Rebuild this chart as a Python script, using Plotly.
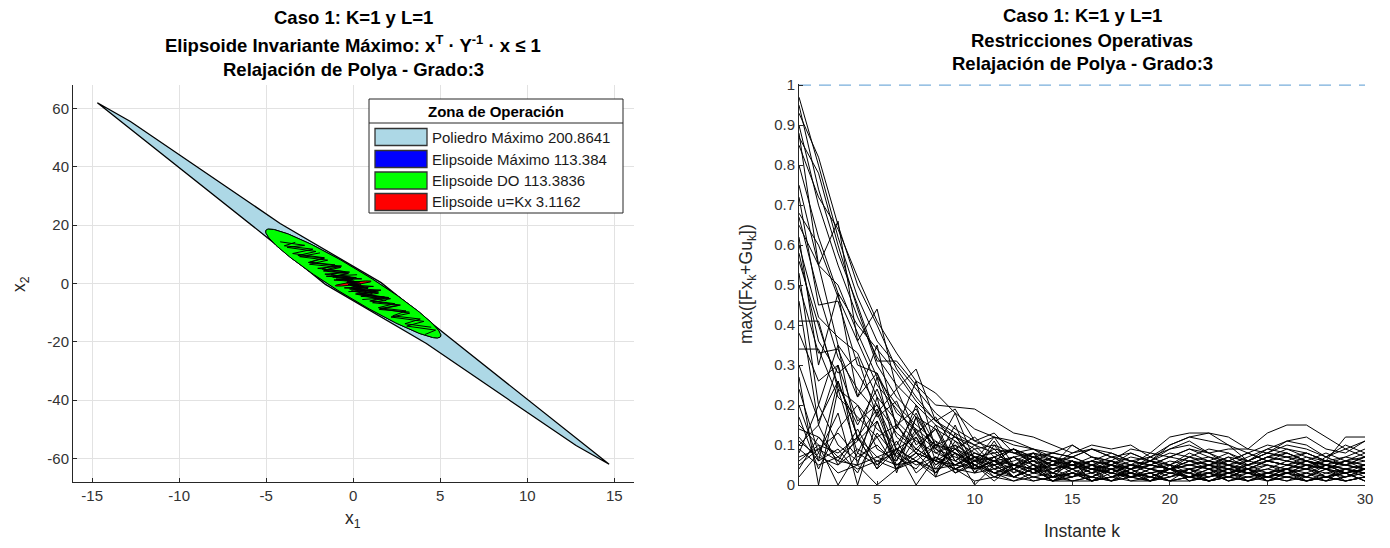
import numpy as np
import plotly.graph_objects as go

W, H = 1390, 548
FONT = "Liberation Sans, Arial, Helvetica, sans-serif"
TXT = "#262626"

# ---------------- Left panel data ----------------
POLY_X = [-14.7, -12.8, -4.2, 1.6, 5.2, 14.7, 12.8, 4.2, -1.6, -5.2, -14.7]
POLY_Y = [62.0, 55.6, 20.6, 0.3, -17.0, -62.0, -55.6, -20.6, -0.3, 17.0, 62.0]

# ellipse parameters: semi-axes (a, b) and orientation (deg) of the major axis
ELL_MAX = (19.3, 1.45, -75.5)
ELL_DO = (19.3, 1.45, -75.5)
ELL_UKX = (1.3, 0.4, 40.0)

LEGEND_TITLE = "Zona de Operación"
LEGEND_LABELS = ["Poliedro Máximo 200.8641", "Elipsoide Máximo 113.384",
                 "Elipsoide DO 113.3836", "Elipsoide u=Kx 3.1162"]
LEGEND_COLORS = ["#ADD8E6", "#0000FF", "#00FF00", "#FF0000"]

TRAJ_X = [
    [-3.33, -3.96, -2.32, -3.48, -1.67, -2.58, -0.72, -1.69, -0.29, -1.18, -0.01, -0.35, 0.08, 0.03],
    [4.12, 4.73, 3.07, 4.06, 2.17, 3.24, 1.52, 2.71, 0.95, 1.97, 0.28, 1.32, 0.02, 0.64, 0.0, 0.2, -0.03],
    [-1.91, -3.08, -1.47, -2.51, -0.72, -1.71, -0.28, -1.15, 0.03, -0.48, 0.1, -0.15, 0.03],
    [3.23, 1.50, 2.64, 1.11, 2.14, 0.44, 1.45, 0.07, 0.84, 0.02, 0.33, -0.1, -0.05],
    [-0.65, -2.04, -0.21, -1.63, 0.18, -0.99, 0.24, -0.38, 0.2, -0.1, 0.03],
    [0.52, 2.04, 0.13, 1.45, -0.21, 0.86, -0.12, 0.30, -0.1, -0.05],
    [-4.20, -2.79, -3.80, -2.14, -3.18, -1.65, -2.49, -1.05, -1.79, -0.56, -1.28, -0.17, -0.66, 0.05, -0.2, 0.0],
    [4.48, 2.97, 3.85, 2.27, 3.03, 1.44, 2.38, 1.02, 1.79, 0.46, 1.07, 0.09, 0.58, -0.05, 0.15, -0.03],
    [0.22, -1.55, 0.49, -1.11, 0.37, -0.35, 0.25, -0.15, 0.0],
    [-0.28, 1.59, -0.51, 1.16, -0.30, 0.45, -0.2, 0.15, 0.0],
    [1.9, 0.2, 1.5, -0.1, 1.1, 0.0, 0.7, -0.2, 0.3, 0.0],
]
TRAJ_Y = [
    [14.11, 12.94, 11.77, 10.28, 8.84, 7.21, 5.98, 4.55, 3.51, 2.20, 1.53, 0.72, 0.34, -0.10],
    [-17.5, -16.0, -14.6, -13.0, -11.5, -10.2, -8.6, -7.4, -6.0, -4.9, -3.8, -2.8, -2.0, -1.3, -0.7, -0.3, 0.1],
    [10.5, 9.2, 8.0, 6.6, 5.5, 4.3, 3.4, 2.5, 1.8, 1.1, 0.6, 0.2, -0.1],
    [-9.8, -8.9, -7.5, -6.6, -5.2, -4.4, -3.3, -2.6, -1.7, -1.1, -0.5, -0.1, 0.2],
    [6.0, 5.2, 3.9, 3.2, 2.0, 1.5, 0.6, 0.3, -0.3, -0.4, -0.1],
    [-5.5, -4.8, -3.6, -2.9, -1.9, -1.4, -0.7, -0.4, 0.1, 0.2],
    [14.3, 13.1, 12.4, 11.0, 9.6, 8.7, 7.3, 6.4, 5.0, 4.1, 3.0, 2.2, 1.4, 0.8, 0.3, 0.0],
    [-15.0, -13.8, -12.2, -11.1, -9.4, -8.3, -6.9, -5.9, -4.6, -3.7, -2.6, -1.9, -1.1, -0.6, -0.2, 0.1],
    [3.0, 2.5, 1.6, 1.2, 0.5, 0.3, -0.2, -0.2, 0.0],
    [-2.8, -2.3, -1.5, -1.0, -0.4, -0.2, 0.2, 0.1, 0.0],
    [-5.9, -3.6, -4.6, -2.5, -3.4, -1.6, -2.3, -0.6, -1.0, 0.0],
]

X1_TICKS = [-15, -10, -5, 0, 5, 10, 15]
X1_TEXT = ["-15", "-10", "-5", "0", "5", "10", "15"]
X2_TICKS = [-60, -40, -20, 0, 20, 40, 60]
X2_TEXT = ["-60", "-40", "-20", "0", "20", "40", "60"]

# ---------------- Right panel data ----------------
K = list(range(1, 31))
K_TICKS = [5, 10, 15, 20, 25, 30]
R_TICKS = [0, 0.1, 0.2, 0.3, 0.4, 0.5, 0.6, 0.7, 0.8, 0.9, 1]
R_TICKTEXT = ["0", "0.1", "0.2", "0.3", "0.4", "0.5", "0.6", "0.7", "0.8", "0.9", "1"]
LIMIT = 1.0

RESTR = [
    [0.97,0.80,0.62,0.47,0.36,0.30,0.24,0.18,0.14,0.11,0.09,0.08,0.07,0.06,0.05,0.06,0.05,0.04,0.05,0.07,0.06,0.05,0.04,0.06,0.08,0.07,0.05,0.04,0.06,0.07],
    [0.95,0.74,0.58,0.45,0.31,0.31,0.25,0.20,0.195,0.19,0.16,0.13,0.12,0.10,0.08,0.09,0.07,0.06,0.05,0.07,0.09,0.08,0.06,0.05,0.07,0.08,0.06,0.05,0.04,0.05],
    [0.93,0.82,0.65,0.50,0.40,0.29,0.22,0.16,0.12,0.09,0.10,0.08,0.06,0.05,0.07,0.05,0.04,0.03,0.05,0.04,0.06,0.07,0.05,0.04,0.03,0.05,0.06,0.04,0.05,0.06],
    [0.90,0.70,0.55,0.42,0.32,0.25,0.20,0.15,0.12,0.10,0.08,0.09,0.07,0.05,0.04,0.06,0.05,0.07,0.06,0.05,0.04,0.05,0.06,0.08,0.10,0.09,0.07,0.06,0.05,0.04],
    [0.87,0.78,0.60,0.44,0.30,0.22,0.17,0.14,0.11,0.08,0.06,0.07,0.05,0.04,0.05,0.03,0.04,0.05,0.03,0.04,0.05,0.04,0.03,0.05,0.06,0.05,0.04,0.03,0.04,0.05],
    [0.85,0.72,0.64,0.52,0.41,0.33,0.26,0.23,0.18,0.14,0.12,0.10,0.09,0.08,0.07,0.09,0.08,0.06,0.05,0.04,0.06,0.05,0.07,0.06,0.05,0.04,0.05,0.06,0.05,0.07],
    [0.80,0.62,0.48,0.40,0.34,0.28,0.21,0.16,0.13,0.10,0.12,0.11,0.09,0.07,0.06,0.05,0.07,0.08,0.06,0.10,0.12,0.13,0.10,0.08,0.06,0.05,0.04,0.06,0.05,0.04],
    [0.75,0.55,0.50,0.38,0.27,0.20,0.15,0.11,0.08,0.06,0.03,0.02,0.04,0.01,0.02,0.03,0.01,0.02,0.03,0.01,0.01,0.02,0.03,0.01,0.02,0.03,0.01,0.02,0.01,0.02],
    [0.72,0.45,0.46,0.30,0.28,0.18,0.14,0.10,0.09,0.06,0.07,0.05,0.04,0.05,0.06,0.04,0.05,0.03,0.02,0.04,0.05,0.06,0.05,0.04,0.06,0.07,0.08,0.06,0.07,0.09],
    [0.68,0.60,0.47,0.36,0.25,0.19,0.13,0.09,0.07,0.05,0.02,0.01,0.03,0.02,0.01,0.01,0.03,0.02,0.01,0.02,0.03,0.01,0.02,0.04,0.02,0.01,0.03,0.02,0.01,0.02],
    [0.65,0.55,0.35,0.28,0.20,0.13,0.09,0.06,0.04,0.03,0.04,0.02,0.01,0.02,0.03,0.01,0.02,0.01,0.01,0.03,0.02,0.01,0.02,0.01,0.03,0.02,0.01,0.02,0.03,0.01],
    [0.60,0.42,0.37,0.33,0.22,0.16,0.11,0.08,0.10,0.07,0.03,0.01,0.02,0.01,0.01,0.02,0.01,0.03,0.02,0.01,0.02,0.01,0.02,0.03,0.01,0.02,0.01,0.02,0.01,0.02],
    [0.56,0.40,0.25,0.15,0.24,0.12,0.08,0.15,0.06,0.04,0.06,0.02,0.04,0.01,0.03,0.02,0.04,0.01,0.02,0.04,0.01,0.03,0.02,0.04,0.01,0.03,0.05,0.02,0.04,0.03],
    [0.50,0.33,0.34,0.22,0.28,0.15,0.19,0.10,0.12,0.07,0.08,0.05,0.06,0.04,0.05,0.03,0.06,0.04,0.07,0.05,0.08,0.06,0.05,0.07,0.09,0.08,0.06,0.05,0.07,0.06],
    [0.41,0.41,0.24,0.20,0.14,0.10,0.18,0.08,0.06,0.10,0.05,0.07,0.04,0.06,0.03,0.05,0.04,0.06,0.05,0.04,0.07,0.05,0.03,0.04,0.06,0.08,0.06,0.05,0.04,0.03],
    [0.38,0.26,0.30,0.16,0.20,0.09,0.12,0.05,0.08,0.00,0.05,0.02,0.04,0.01,0.02,0.04,0.01,0.02,0.03,0.01,0.02,0.03,0.01,0.02,0.03,0.04,0.02,0.01,0.02,0.03],
    [0.34,0.34,0.22,0.17,0.12,0.15,0.09,0.06,0.04,0.07,0.02,0.04,0.02,0.01,0.03,0.02,0.05,0.03,0.01,0.03,0.02,0.04,0.02,0.01,0.03,0.02,0.01,0.03,0.02,0.04],
    [0.30,0.16,0.26,0.12,0.19,0.07,0.13,0.05,0.09,0.04,0.06,0.03,0.05,0.02,0.04,0.01,0.02,0.04,0.01,0.02,0.04,0.01,0.02,0.04,0.01,0.02,0.03,0.01,0.02,0.03],
    [0.27,0.00,0.24,0.08,0.18,0.06,0.14,0.04,0.10,0.03,0.07,0.02,0.05,0.01,0.04,0.02,0.01,0.04,0.02,0.01,0.02,0.04,0.01,0.03,0.02,0.01,0.02,0.04,0.01,0.02],
    [0.24,0.08,0.18,0.00,0.16,0.04,0.12,0.03,0.08,0.05,0.03,0.04,0.02,0.03,0.01,0.02,0.04,0.02,0.03,0.01,0.04,0.02,0.03,0.05,0.03,0.04,0.02,0.05,0.03,0.04],
    [0.20,0.06,0.26,0.12,0.04,0.15,0.08,0.03,0.11,0.05,0.01,0.05,0.03,0.04,0.02,0.05,0.03,0.02,0.04,0.05,0.03,0.01,0.03,0.04,0.02,0.04,0.06,0.04,0.02,0.04],
    [0.17,0.04,0.14,0.20,0.09,0.06,0.17,0.09,0.05,0.07,0.04,0.05,0.03,0.06,0.04,0.05,0.02,0.04,0.06,0.09,0.11,0.08,0.05,0.06,0.08,0.11,0.10,0.07,0.09,0.11],
    [0.14,0.12,0.07,0.11,0.16,0.05,0.09,0.14,0.04,0.06,0.03,0.05,0.04,0.07,0.05,0.04,0.06,0.03,0.05,0.04,0.06,0.04,0.05,0.03,0.04,0.06,0.05,0.04,0.06,0.08],
    [0.12,0.06,0.09,0.03,0.13,0.07,0.04,0.10,0.05,0.08,0.06,0.04,0.07,0.05,0.10,0.07,0.05,0.04,0.06,0.05,0.07,0.06,0.08,0.05,0.07,0.06,0.08,0.06,0.05,0.07],
    [0.10,0.15,0.05,0.12,0.04,0.09,0.06,0.03,0.08,0.04,0.06,0.09,0.05,0.03,0.06,0.04,0.05,0.08,0.06,0.04,0.03,0.05,0.07,0.04,0.06,0.05,0.04,0.07,0.05,0.04],
    [0.08,0.20,0.10,0.06,0.12,0.04,0.07,0.11,0.03,0.06,0.09,0.04,0.06,0.03,0.05,0.04,0.03,0.05,0.04,0.06,0.05,0.04,0.06,0.08,0.06,0.05,0.07,0.05,0.06,0.04],
    [0.06,0.10,0.00,0.08,0.05,0.11,0.03,0.07,0.05,0.04,0.05,0.02,0.04,0.03,0.02,0.04,0.03,0.02,0.03,0.04,0.03,0.02,0.04,0.03,0.02,0.03,0.04,0.02,0.03,0.01],
    [0.04,0.12,0.06,0.14,0.05,0.09,0.00,0.07,0.03,0.05,0.03,0.05,0.04,0.02,0.03,0.01,0.02,0.03,0.02,0.04,0.02,0.03,0.01,0.02,0.03,0.04,0.03,0.05,0.03,0.04],
    [0.02,0.08,0.03,0.05,0.00,0.04,0.06,0.02,0.04,0.01,0.02,0.04,0.01,0.02,0.03,0.01,0.02,0.03,0.01,0.04,0.02,0.01,0.03,0.02,0.01,0.03,0.02,0.01,0.04,0.02],
    [0.62,0.30,0.48,0.22,0.35,0.14,0.26,0.09,0.18,0.06,0.12,0.05,0.08,0.04,0.06,0.03,0.05,0.02,0.04,0.03,0.02,0.03,0.04,0.03,0.02,0.03,0.05,0.04,0.03,0.04],
    [0.88,0.55,0.66,0.36,0.44,0.24,0.29,0.16,0.19,0.11,0.13,0.08,0.09,0.06,0.07,0.05,0.06,0.04,0.05,0.04,0.03,0.05,0.04,0.03,0.05,0.04,0.06,0.05,0.04,0.03],
    [0.53,0.20,0.35,0.11,0.27,0.08,0.20,0.06,0.15,0.04,0.11,0.03,0.08,0.02,0.06,0.01,0.04,0.02,0.01,0.05,0.01,0.02,0.04,0.01,0.02,0.04,0.01,0.02,0.03,0.01],
    [0.46,0.15,0.30,0.05,0.22,0.03,0.17,0.02,0.13,0.03,0.10,0.04,0.07,0.03,0.06,0.04,0.03,0.05,0.04,0.03,0.04,0.05,0.03,0.04,0.05,0.03,0.04,0.05,0.03,0.04],
    [0.67,0.48,0.32,0.24,0.18,0.24,0.13,0.17,0.09,0.12,0.07,0.09,0.05,0.07,0.04,0.06,0.05,0.04,0.06,0.04,0.05,0.06,0.04,0.05,0.07,0.06,0.05,0.04,0.06,0.05],
    [0.58,0.36,0.28,0.32,0.17,0.21,0.10,0.14,0.06,0.09,0.04,0.07,0.03,0.05,0.04,0.06,0.03,0.05,0.04,0.02,0.04,0.03,0.05,0.03,0.04,0.03,0.02,0.04,0.03,0.05],
    [0.09,0.05,0.07,0.04,0.06,0.08,0.05,0.07,0.04,0.06,0.05,0.07,0.08,0.06,0.05,0.07,0.06,0.05,0.08,0.12,0.13,0.13,0.12,0.09,0.08,0.07,0.06,0.08,0.06,0.05],
    [0.11,0.07,0.05,0.09,0.06,0.04,0.08,0.06,0.05,0.07,0.06,0.05,0.07,0.05,0.08,0.10,0.09,0.10,0.07,0.09,0.10,0.08,0.09,0.09,0.13,0.15,0.15,0.12,0.09,0.07],
    [0.07,0.09,0.06,0.05,0.07,0.05,0.06,0.04,0.05,0.08,0.06,0.09,0.07,0.08,0.10,0.07,0.06,0.09,0.08,0.07,0.09,0.07,0.06,0.05,0.07,0.09,0.08,0.06,0.12,0.12],
    [0.05,0.09,0.13,0.07,0.10,0.05,0.08,0.06,0.09,0.07,0.05,0.06,0.08,0.07,0.05,0.06,0.08,0.06,0.07,0.10,0.12,0.11,0.10,0.06,0.08,0.10,0.09,0.07,0.10,0.08],
    [0.15,0.10,0.08,0.12,0.07,0.09,0.06,0.10,0.08,0.05,0.07,0.09,0.06,0.08,0.07,0.09,0.07,0.05,0.06,0.08,0.07,0.09,0.08,0.06,0.09,0.11,0.12,0.09,0.08,0.11],
]


def ellipse(a, b, ang_deg, n=240):
    t = np.linspace(0, 2 * np.pi, n)
    c, s = np.cos(np.radians(ang_deg)), np.sin(np.radians(ang_deg))
    x = a * np.cos(t) * c - b * np.sin(t) * s
    y = a * np.cos(t) * s + b * np.sin(t) * c
    return x, y


def px(xp):
    return xp / W


def py(yp):
    return 1 - yp / H


fig = go.Figure()

# ---- left panel ----
fig.add_trace(go.Scatter(x=POLY_X, y=POLY_Y, fill="toself", fillcolor=LEGEND_COLORS[0],
                         line=dict(color="black", width=1.3), mode="lines",
                         showlegend=False, xaxis="x", yaxis="y"))
for params, col in [(ELL_MAX, LEGEND_COLORS[1]), (ELL_DO, LEGEND_COLORS[2]), (ELL_UKX, LEGEND_COLORS[3])]:
    ex, ey = ellipse(*params)
    fig.add_trace(go.Scatter(x=ex, y=ey, fill="toself", fillcolor=col,
                             line=dict(color="black", width=1), mode="lines",
                             showlegend=False, xaxis="x", yaxis="y"))
for tx, ty in zip(TRAJ_X, TRAJ_Y):
    fig.add_trace(go.Scatter(x=tx, y=ty, mode="lines", line=dict(color="black", width=1),
                             showlegend=False, xaxis="x", yaxis="y"))

# ---- right panel ----
for row in RESTR:
    fig.add_trace(go.Scatter(x=K, y=row, mode="lines", line=dict(color="black", width=1),
                             showlegend=False, xaxis="x2", yaxis="y2"))
fig.add_trace(go.Scatter(x=[K[0], K[-1]], y=[LIMIT, LIMIT], mode="lines",
                         line=dict(color="#78aedb", width=1.3, dash="12px,8px"),
                         showlegend=False, xaxis="x2", yaxis="y2"))

axis_common = dict(showline=True, linecolor=TXT, linewidth=1, ticks="inside", ticklen=4,
                   tickcolor=TXT, zeroline=False, mirror=False, automargin=False,
                   tickfont=dict(family=FONT, size=15, color="#333333"))

fig.update_layout(
    width=W, height=H, margin=dict(l=0, r=0, t=0, b=0, pad=0, autoexpand=False),
    paper_bgcolor="white", plot_bgcolor="white", showlegend=False,
    xaxis=dict(domain=[px(73), px(633.5)], range=[-16.1, 16.1], tickvals=X1_TICKS,
               ticktext=X1_TEXT, showgrid=True, gridcolor="#e2e2e2", anchor="y", **axis_common),
    yaxis=dict(domain=[py(482), py(85)], range=[-68.1, 68.1], tickvals=X2_TICKS,
               ticktext=X2_TEXT, showgrid=True, gridcolor="#e2e2e2", anchor="x", **axis_common),
    xaxis2=dict(domain=[px(799), px(1365)], range=[1, 30], tickvals=K_TICKS,
                showgrid=False, anchor="y2", **axis_common),
    yaxis2=dict(domain=[py(485), py(84)], range=[0, 1.003], tickvals=R_TICKS,
                ticktext=R_TICKTEXT, showgrid=False, anchor="x2", **axis_common),
)

ann = []
TSIZE = 18.5
for txt, yc in [("<b>Caso 1: K=1 y L=1</b>", 17),
                ("<b>Elipsoide Invariante Máximo: x<sup>T</sup> · Y<sup>-1</sup> · x ≤ 1</b>", 44),
                ("<b>Relajación de Polya - Grado:3</b>", 69)]:
    ann.append(dict(text=txt, x=px(353), y=py(yc), xref="paper", yref="paper",
                    xanchor="center", yanchor="middle", showarrow=False,
                    font=dict(family=FONT, size=TSIZE, color="black")))
for txt, yc in [("<b>Caso 1: K=1 y L=1</b>", 16),
                ("<b>Restricciones Operativas</b>", 40),
                ("<b>Relajación de Polya - Grado:3</b>", 64)]:
    ann.append(dict(text=txt, x=px(1082), y=py(yc), xref="paper", yref="paper",
                    xanchor="center", yanchor="middle", showarrow=False,
                    font=dict(family=FONT, size=TSIZE, color="black")))

LSIZE = 17.5
ann += [
    dict(text="x<sub>1</sub>", x=px(353), y=py(519), xref="paper", yref="paper",
         xanchor="center", yanchor="middle", showarrow=False,
         font=dict(family=FONT, size=LSIZE, color=TXT)),
    dict(text="x<sub>2</sub>", x=px(20), y=py(284), xref="paper", yref="paper",
         xanchor="center", yanchor="middle", showarrow=False, textangle=-90,
         font=dict(family=FONT, size=LSIZE, color=TXT)),
    dict(text="Instante k", x=px(1082), y=py(531), xref="paper", yref="paper",
         xanchor="center", yanchor="middle", showarrow=False,
         font=dict(family=FONT, size=LSIZE, color=TXT)),
    dict(text="max([Fx<sub>k</sub>+Gu<sub>k</sub>])", x=px(747), y=py(284), xref="paper", yref="paper",
         xanchor="center", yanchor="middle", showarrow=False, textangle=-90,
         font=dict(family=FONT, size=LSIZE, color=TXT)),
]

# ---- manual legend box ----
shapes = []
LX0, LX1, LY0, LY1 = 369, 623, 99, 213
shapes.append(dict(type="rect", xref="paper", yref="paper", x0=px(LX0), x1=px(LX1),
                   y0=py(LY1), y1=py(LY0), line=dict(color=TXT, width=1), fillcolor="white",
                   layer="above"))
shapes.append(dict(type="line", xref="paper", yref="paper", x0=px(LX0), x1=px(LX1),
                   y0=py(123), y1=py(123), line=dict(color=TXT, width=1), layer="above"))
ann.append(dict(text="<b>" + LEGEND_TITLE + "</b>", x=px((LX0 + LX1) / 2), y=py(112),
                xref="paper", yref="paper", xanchor="center", yanchor="middle", showarrow=False,
                font=dict(family=FONT, size=15, color="black")))
centers = [137, 159, 180.5, 202]
for lab, col, yc in zip(LEGEND_LABELS, LEGEND_COLORS, centers):
    shapes.append(dict(type="rect", xref="paper", yref="paper", x0=px(375), x1=px(427),
                       y0=py(yc + 8.5), y1=py(yc - 8.5), fillcolor=col,
                       line=dict(color="#333333", width=1.3), layer="above"))
    ann.append(dict(text=lab, x=px(430), y=py(yc), xref="paper", yref="paper",
                    xanchor="left", yanchor="middle", showarrow=False,
                    font=dict(family=FONT, size=15, color="#1a1a1a")))

fig.update_layout(annotations=ann, shapes=shapes)
fig.write_html("out.html")
